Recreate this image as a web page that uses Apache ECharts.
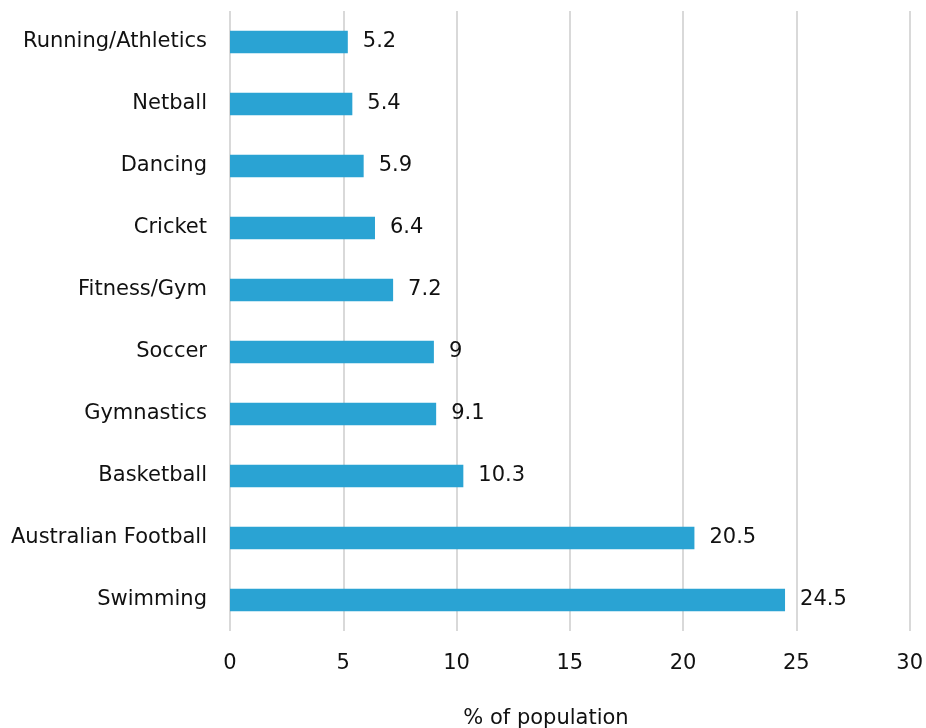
<!DOCTYPE html>
<html>
<head>
<meta charset="utf-8">
<script src="https://cdn.jsdelivr.net/npm/echarts@6/dist/echarts.min.js"></script>
<style>
  html, body { margin: 0; padding: 0; background: #fff; }
  #chart { width: 926px; height: 728px; }
</style>
</head>
<body>
<div id="chart"></div>
<script>
// bottom to top, as echarts draws category axes
var sports = ['Swimming', 'Australian Football', 'Basketball', 'Gymnastics', 'Soccer',
              'Fitness/Gym', 'Cricket', 'Dancing', 'Netball', 'Running/Athletics'];
var percent = [24.5, 20.5, 10.3, 9.1, 9, 7.2, 6.4, 5.9, 5.4, 5.2];
var xTicks = [0, 5, 10, 15, 20, 25, 30];

var chart = echarts.init(document.getElementById('chart'));
var font = 'DejaVu Sans, Liberation Sans, sans-serif';
var option = {
    animation: false,
    textStyle: { fontFamily: font },
    title: {
        text: '% of population',
        left: 541,
        textAlign: 'center',
        top: 703,
        textStyle: { fontSize: 21, fontWeight: 'normal', color: '#111', fontFamily: font }
    },
    grid: { left: 230, right: 15, top: 11, bottom: 97 },
    xAxis: {
        type: 'value',
        min: xTicks[0],
        max: xTicks[xTicks.length - 1],
        interval: 5,
        axisLine: { show: false },
        axisTick: { show: false },
        axisLabel: { fontSize: 21, color: '#111', margin: 22, fontFamily: font },
        splitLine: { lineStyle: { color: '#d9d9d9', width: 2 } }
    },
    yAxis: {
        type: 'category',
        data: sports,
        axisLine: { show: false },
        axisTick: { show: false },
        axisLabel: { fontSize: 21, color: '#111', margin: 23, padding: [2, 0, 0, 0], fontFamily: font }
    },
    series: [{
        type: 'bar',
        data: percent,
        barWidth: '36%',
        itemStyle: { color: '#2aa3d3' },
        label: {
            show: true,
            position: 'right',
            distance: 15,
            padding: [2, 0, 0, 0],
            fontSize: 21,
            color: '#111',
            fontFamily: font
        }
    }]
};
chart.setOption(option);
</script>
</body>
</html>
